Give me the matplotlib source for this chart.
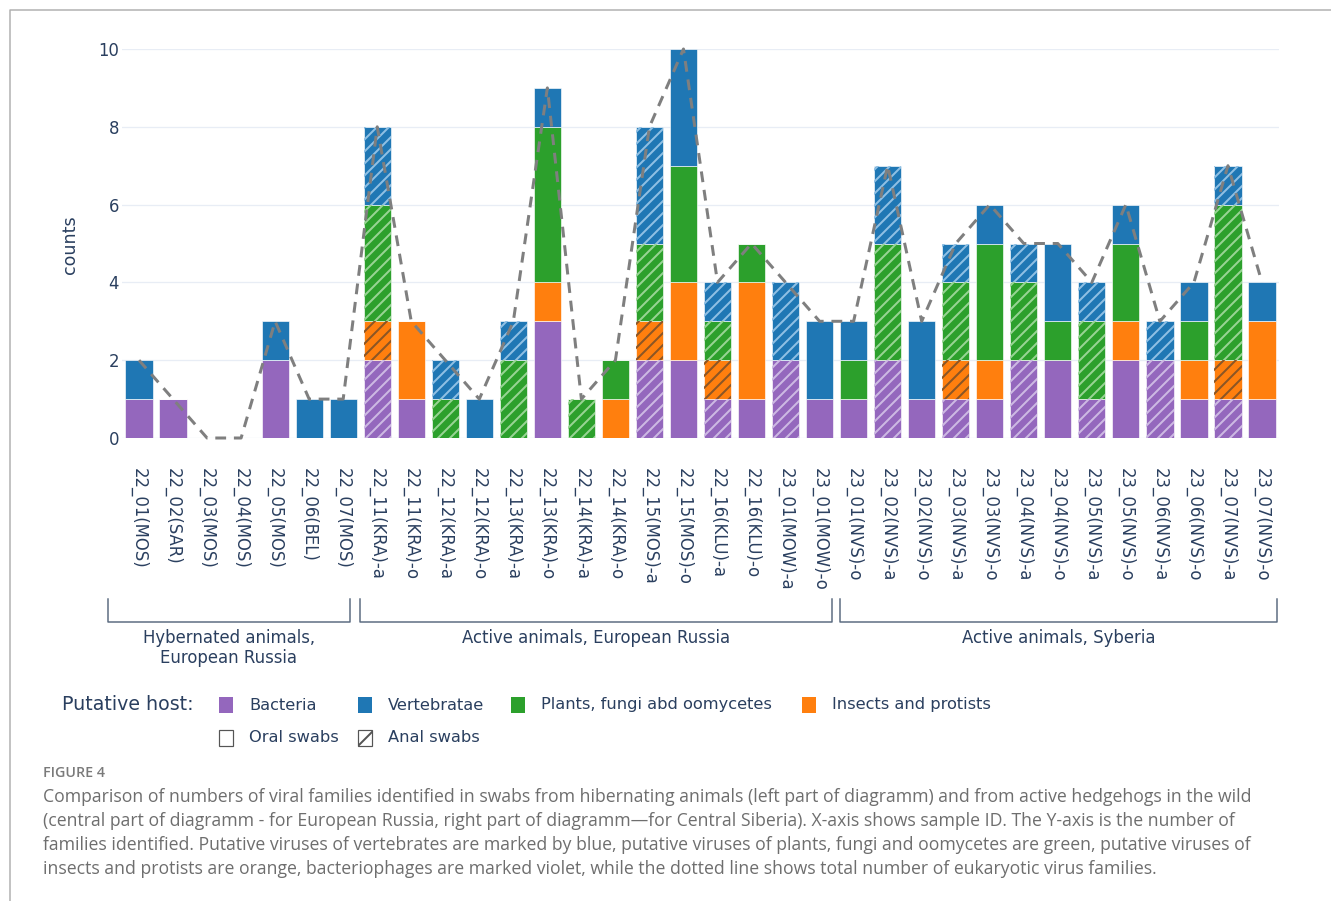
import matplotlib
matplotlib.use('Agg')
import matplotlib.pyplot as plt
from matplotlib.patches import Rectangle
from matplotlib.lines import Line2D
import numpy as np

# Sample IDs (suffix -a = anal swab, -o = oral swab)
samples = ['22_01(MOS)', '22_02(SAR)', '22_03(MOS)', '22_04(MOS)', '22_05(MOS)',
           '22_06(BEL)', '22_07(MOS)',
           '22_11(KRA)-a', '22_11(KRA)-o', '22_12(KRA)-a', '22_12(KRA)-o',
           '22_13(KRA)-a', '22_13(KRA)-o', '22_14(KRA)-a', '22_14(KRA)-o',
           '22_15(MOS)-a', '22_15(MOS)-o', '22_16(KLU)-a', '22_16(KLU)-o',
           '23_01(MOW)-a', '23_01(MOW)-o',
           '23_01(NVS)-o', '23_02(NVS)-a', '23_02(NVS)-o', '23_03(NVS)-a',
           '23_03(NVS)-o', '23_04(NVS)-a', '23_04(NVS)-o', '23_05(NVS)-a',
           '23_05(NVS)-o', '23_06(NVS)-a', '23_06(NVS)-o', '23_07(NVS)-a',
           '23_07(NVS)-o']

# Virus family counts per putative host
bacteria    = [1, 1, 0, 0, 2, 0, 0, 2, 1, 0, 0, 0, 3, 0, 0, 2, 2, 1, 1, 2, 1,
               1, 2, 1, 1, 1, 2, 2, 1, 2, 2, 1, 1, 1]
insects     = [0, 0, 0, 0, 0, 0, 0, 1, 2, 0, 0, 0, 1, 0, 1, 1, 2, 1, 3, 0, 0,
               0, 0, 0, 1, 1, 0, 0, 0, 1, 0, 1, 1, 2]
plants      = [0, 0, 0, 0, 0, 0, 0, 3, 0, 1, 0, 2, 4, 1, 1, 2, 3, 1, 1, 0, 0,
               1, 3, 0, 2, 3, 2, 1, 2, 2, 0, 1, 4, 0]
vertebrates = [1, 0, 0, 0, 1, 1, 1, 2, 0, 1, 1, 1, 1, 0, 0, 3, 3, 1, 0, 2, 2,
               1, 2, 2, 1, 1, 1, 2, 1, 1, 1, 1, 1, 1]
# dashed line values
totals      = [2, 1, 0, 0, 3, 1, 1, 8, 3, 2, 1, 3, 9, 1, 2, 8, 10, 4, 5, 4, 3,
               3, 7, 3, 5, 6, 5, 5, 4, 6, 3, 4, 7, 4]

groups = ['Hybernated animals,\nEuropean Russia',
          'Active animals, European Russia',
          'Active animals, Syberia']

hosts = ['Bacteria', 'Vertebratae', 'Plants, fungi abd oomycetes', 'Insects and protists']

# fill colour and hatch-line colour for each host
colors = {'Bacteria': '#9467bd', 'Insects and protists': '#ff7f0e',
          'Plants, fungi abd oomycetes': '#2ca02c', 'Vertebratae': '#1f77b4'}
hatch_colors = {'Bacteria': '#cdb9e3', 'Insects and protists': '#8a5526',
                'Plants, fungi abd oomycetes': '#98d494', 'Vertebratae': '#8fc0e4'}

text_col = '#2a3f5f'
W, H = 1331, 901
plt.rcParams['hatch.linewidth'] = 2.0
plt.rcParams['font.family'] = ['DejaVu Sans']


def fx(px):
    return px / W


def fy(py):
    return 1 - py / H


fig = plt.figure(figsize=(W / 72, H / 72), dpi=72)
ax = fig.add_axes([fx(122), fy(438), fx(1279) - fx(122), fy(49) - fy(438)])

x = np.arange(len(samples))
anal = [s.endswith('-a') for s in samples]

# stacked bars: bacteria, insects, plants, vertebrates (bottom to top)
bottom = np.zeros(len(samples))
for name, vals in [('Bacteria', bacteria), ('Insects and protists', insects),
                   ('Plants, fungi abd oomycetes', plants), ('Vertebratae', vertebrates)]:
    vals = np.array(vals, dtype=float)
    ax.bar(x, vals, 0.8, bottom=bottom, color=colors[name],
           edgecolor='white', linewidth=0.6, zorder=2)
    # hatch overlay for anal swabs
    for i in range(len(samples)):
        if anal[i] and vals[i] > 0:
            ax.bar(x[i], vals[i], 0.8, bottom=bottom[i], facecolor='none',
                   edgecolor=hatch_colors[name], linewidth=0, hatch='//', zorder=3)
    bottom += vals

ax.plot(x, totals, color='#7f7f7f', linewidth=3, dashes=(3.6, 2.6),
        zorder=4, clip_on=False)

ax.set_xlim(-0.5, len(samples) - 0.5)
ax.set_ylim(0, 10)
ax.set_yticks([0, 2, 4, 6, 8, 10])
ax.grid(axis='y', color='#e8edf5', linewidth=1.3, zorder=0)
ax.set_axisbelow(True)
for s in ax.spines.values():
    s.set_visible(False)
ax.set_xticks(x)
ax.set_xticklabels(samples, rotation=-90, fontsize=16.5, color=text_col)
ax.tick_params(axis='x', length=0, pad=30)
ax.tick_params(axis='y', length=0, pad=3, labelsize=16.5, labelcolor=text_col)
fig.text(fx(70), fy(245), 'counts', rotation=90, ha='center', va='center',
         fontsize=17.5, color=text_col)

# group brackets under the tick labels
brackets = [(108, 350), (360, 832), (840, 1277)]
for (x0, x1), label in zip(brackets, groups):
    fig.add_artist(Line2D([fx(x0), fx(x0), fx(x1), fx(x1)],
                          [fy(599), fy(622), fy(622), fy(599)],
                          color='#5a6a80', linewidth=1.5))
    fig.text(fx((x0 + x1) / 2), fy(629), label, ha='center', va='top',
             fontsize=16.5, color=text_col, linespacing=1.15)

# legend
fig.text(fx(62), fy(705), 'Putative host:', ha='left', va='center',
         fontsize=19, color=text_col)
legend_x = [219, 358, 511, 802]
for lx, name in zip(legend_x, hosts):
    fig.add_artist(Rectangle((fx(lx), fy(713)), fx(14), 16 / H,
                             facecolor=colors[name], edgecolor='none'))
    fig.text(fx(lx + 30), fy(705), name, ha='left', va='center',
             fontsize=16.3, color=text_col)
fig.add_artist(Rectangle((fx(219), fy(746)), fx(14), 16 / H,
                         facecolor='white', edgecolor='#555555', linewidth=1.2))
fig.text(fx(249), fy(738), 'Oral swabs', ha='left', va='center',
         fontsize=16.3, color=text_col)
fig.add_artist(Rectangle((fx(358), fy(746)), fx(14), 16 / H,
                         facecolor='white', edgecolor='#555555', linewidth=1.2,
                         hatch='/'))
fig.text(fx(388), fy(738), 'Anal swabs', ha='left', va='center',
         fontsize=16.3, color=text_col)

# caption
fig.text(fx(43), fy(773), 'FIGURE 4', ha='left', va='center', fontsize=14.3,
         color='#7a7a7a', family='Open Sans', fontweight='semibold')
caption = [
    'Comparison of numbers of viral families identified in swabs from hibernating animals (left part of diagramm) and from active hedgehogs in the wild',
    '(central part of diagramm - for European Russia, right part of diagramm\u2014for Central Siberia). X-axis shows sample ID. The Y-axis is the number of',
    'families identified. Putative viruses of vertebrates are marked by blue, putative viruses of plants, fungi and oomycetes are green, putative viruses of',
    'insects and protists are orange, bacteriophages are marked violet, while the dotted line shows total number of eukaryotic virus families.',
]
for k, line in enumerate(caption):
    fig.text(fx(43), fy(797 + 24 * k), line, ha='left', va='center',
             fontsize=17.6, color='#6e6e6e', family='Open Sans')

# page frame
fig.add_artist(Line2D([fx(9.5), fx(9.5), 1], [0, fy(9.5), fy(9.5)],
                      color='#b0b0b0', linewidth=1.5))

fig.savefig('out.png', dpi=72, facecolor='white')
